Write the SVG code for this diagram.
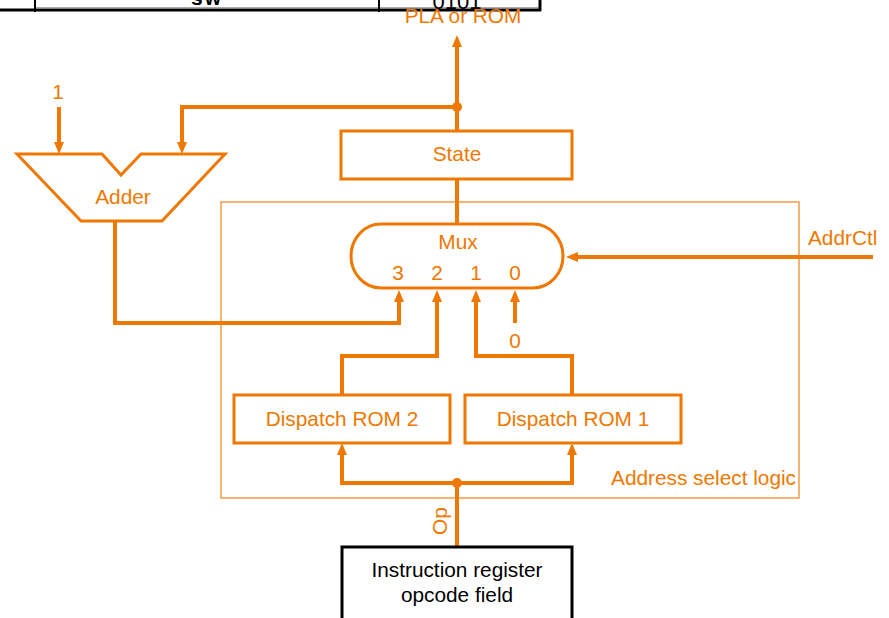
<svg xmlns="http://www.w3.org/2000/svg" width="889" height="618" viewBox="0 0 889 618">
<style>
.o{fill:none;stroke:#EF7800;stroke-width:3}
.w{fill:none;stroke:#EF7800;stroke-width:4;stroke-linejoin:miter}
.t{font-family:"Liberation Sans",Arial,Helvetica,sans-serif;font-size:20.8px;fill:#EF7800}
.k{font-family:"Liberation Sans",Arial,Helvetica,sans-serif;font-size:20.8px;fill:#000}
.c{text-anchor:middle}
</style>
<defs>
<marker id="ah" viewBox="0 0 12 10" refX="3" refY="5" markerWidth="12" markerHeight="10" markerUnits="userSpaceOnUse" orient="auto">
<path d="M0,0 L12,5 L0,10 z" fill="#EF7800"/>
</marker>
</defs>
<rect width="889" height="618" fill="#fff"/>
<g id="table-top">
<line x1="35" y1="7.5" x2="540" y2="7.5" stroke="#aaa" stroke-width="1"/>
<line x1="0" y1="10" x2="541" y2="10" stroke="#000" stroke-width="3"/>
<line x1="35" y1="0" x2="35" y2="12" stroke="#000" stroke-width="2"/>
<line x1="379" y1="0" x2="379" y2="12" stroke="#000" stroke-width="2"/>
<line x1="540" y1="0" x2="540" y2="11" stroke="#000" stroke-width="3"/>
<text x="207" y="5" class="c" style="font-family:'Liberation Sans',Arial,sans-serif;font-size:21px;font-weight:bold;letter-spacing:2px">sw</text>
<text x="457" y="9" class="c" style="font-family:'Liberation Sans',Arial,sans-serif;font-size:22px">0101</text>
</g>
<g id="address-select-logic">
<rect x="221" y="202" width="578" height="296" fill="none" stroke="#EF7800" stroke-width="1.3" stroke-opacity="0.85"/>
<text x="796" y="485" class="t" text-anchor="end">Address select logic</text>
</g>
<g id="connectors">
<path class="w" d="M457,131 V44" marker-end="url(#ah)"/>
<path class="w" d="M457,107 H182 V145" marker-end="url(#ah)"/>
<path class="w" d="M59,107 V145" marker-end="url(#ah)"/>
<path class="w" d="M457,179 V224"/>
<path class="w" d="M115,221 V323 H399 V299" marker-end="url(#ah)"/>
<path class="w" d="M342,395 V356 H437 V299" marker-end="url(#ah)"/>
<path class="w" d="M572,395 V356 H476 V299" marker-end="url(#ah)"/>
<path class="w" d="M515,323 V299" marker-end="url(#ah)"/>
<path class="w" d="M873,257 H575" marker-end="url(#ah)"/>
<path class="w" d="M457,547 V483"/>
<path class="w" d="M457,483 H342 V452" marker-end="url(#ah)"/>
<path class="w" d="M457,483 H572 V452" marker-end="url(#ah)"/>
<circle cx="457" cy="107" r="5" fill="#EF7800"/>
<circle cx="457" cy="483" r="5" fill="#EF7800"/>
</g>
<g id="pla-label"><text x="463" y="23" class="t c">PLA or ROM</text></g>
<g id="const-1"><text x="58" y="99" class="t c">1</text></g>
<g id="adder">
<path class="o" d="M17,154 H102 L121,175 L141,154 H225 L162,221 H81 Z"/>
<text x="123" y="204" class="t c">Adder</text>
</g>
<g id="state">
<rect class="o" x="341" y="131" width="231" height="48"/>
<text x="457" y="161" class="t c">State</text>
</g>
<g id="mux">
<rect class="o" x="351" y="224" width="212" height="64" rx="30" ry="32"/>
<text x="458" y="249" class="t c">Mux</text>
<text x="398" y="280" class="t c">3</text>
<text x="437" y="280" class="t c">2</text>
<text x="476" y="280" class="t c">1</text>
<text x="515" y="280" class="t c">0</text>
</g>
<g id="const-0"><text x="515" y="348" class="t c">0</text></g>
<g id="addrctl"><text x="808" y="245" class="t">AddrCtl</text></g>
<g id="dispatch-rom-2">
<rect class="o" x="234" y="395" width="216" height="48"/>
<text x="342" y="426" class="t c">Dispatch ROM 2</text>
</g>
<g id="dispatch-rom-1">
<rect class="o" x="465" y="395" width="216" height="48"/>
<text x="573" y="426" class="t c">Dispatch ROM 1</text>
</g>
<g id="op-label"><text class="t c" transform="translate(447,521) rotate(-90)">Op</text></g>
<g id="instruction-register">
<rect x="342" y="547" width="230" height="80" fill="#fff" stroke="#000" stroke-width="3"/>
<text x="457" y="577" class="k c">Instruction register</text>
<text x="457" y="602" class="k c">opcode field</text>
</g>
</svg>
